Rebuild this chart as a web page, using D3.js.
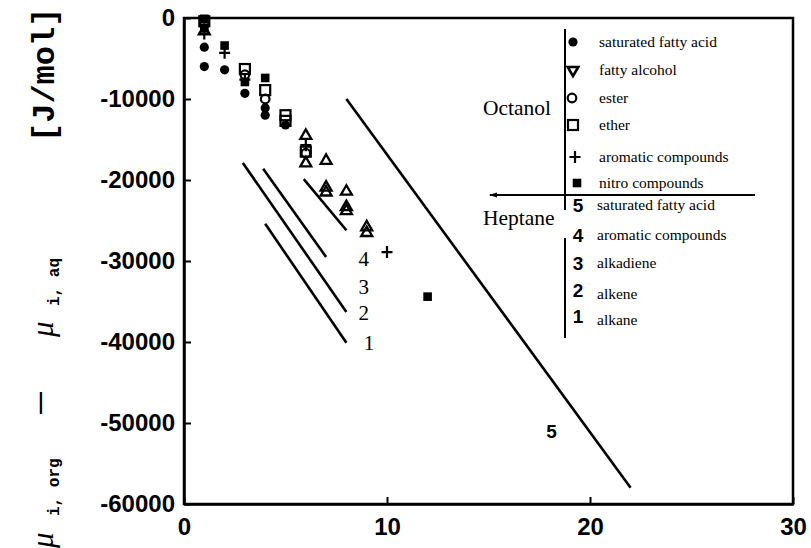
<!DOCTYPE html>
<html>
<head>
<meta charset="utf-8">
<script src="https://cdn.jsdelivr.net/npm/d3@7"></script>
<style>
  body { margin: 0; background: #fff; }
  svg { display: block; }
  .tick-label { font-family: "Liberation Sans", Arial, sans-serif; font-weight: bold; font-size: 24px; fill: #000; }
  .serif { font-family: "Liberation Serif", "Times New Roman", serif; fill: #000; }
  .mono { font-family: "Liberation Mono", "Courier New", monospace; fill: #000; }
  .num { font-family: "Liberation Sans", Arial, sans-serif; font-weight: bold; fill: #000; }
</style>
</head>
<body>
<svg id="chart" width="811" height="548"></svg>
<script>
// Axis ticks
const xTicks = [0, 10, 20, 30];
const yTicks = [0, -10000, -20000, -30000, -40000, -50000, -60000];

// Octanol series: [carbon number, chemical potential difference J/mol]
const fattyAcid    = [[1, -3600], [1, -6000], [2, -6400], [3, -9300], [4, -11100], [4, -12000], [5, -13200]];
const fattyAlcohol = [[1, -1500], [6, -14400], [6, -17800], [7, -17500], [7, -20800], [7, -21400],
                      [8, -21300], [8, -23200], [8, -23700], [9, -25700], [9, -26400]];
const ester        = [[1, -800], [3, -7000], [4, -10000], [6, -16700]];
const ether        = [[1, -400], [3, -6300], [4, -8900], [5, -12000], [5, -12700], [6, -16500]];
const aromatic     = [[1, -1900], [2, -4300], [3, -7600], [6, -15700], [10, -28900]];
const nitro        = [[1, -100], [1, -1200], [2, -3400], [3, -7900], [4, -7400], [12, -34400]];

// Heptane correlation lines: end points and the label point
const line1 = [[4, -25400], [8, -40100]];
const line2 = [[2.9, -17900], [8, -36300]];
const line3 = [[3.9, -18600], [7, -29500]];
const line4 = [[5.9, -19900], [8, -26200]];
const line5 = [[8, -10000], [22, -58000]];
const lineLabels = [
  { text: "4", at: [8.6, -29700] },
  { text: "3", at: [8.6, -33200] },
  { text: "2", at: [8.6, -36400] },
  { text: "1", at: [8.85, -40100] }
];
const line5Label = { text: "5", at: [18.1, -51000] };

// Legend entries
const octanolNames = ["saturated fatty acid", "fatty alcohol", "ester", "ether", "aromatic compounds", "nitro compounds"];
const heptaneNumbers = ["5", "4", "3", "2", "1"];
const heptaneNames = ["saturated fatty acid", "aromatic compounds", "alkadiene", "alkene", "alkane"];

const svg = d3.select("#chart");
const x = d3.scaleLinear().domain([0, 30]).range([184, 793]);
const y = d3.scaleLinear().domain([0, -60000]).range([18, 504]);

// Frame
svg.append("rect")
  .attr("x", x(0)).attr("y", y(0))
  .attr("width", x(30) - x(0)).attr("height", y(-60000) - y(0))
  .attr("fill", "none").attr("stroke", "#000").attr("stroke-width", 2.5);

// Axes with inward ticks
const xAxis = d3.axisBottom(x).tickValues(xTicks).tickSizeInner(-7).tickSizeOuter(0).tickPadding(14)
  .tickFormat(d => String(d));
const yAxis = d3.axisLeft(y).tickValues(yTicks).tickSizeInner(-7).tickSizeOuter(0).tickPadding(9)
  .tickFormat(d => String(d));

const gx = svg.append("g").attr("transform", `translate(0,${y(-60000)})`).call(xAxis);
const gy = svg.append("g").attr("transform", `translate(${x(0)},0)`).call(yAxis);
[gx, gy].forEach(g => {
  g.select(".domain").attr("stroke", "#000").attr("stroke-width", 2.5);
  g.selectAll(".tick line").attr("stroke", "#000").attr("stroke-width", 2);
  g.selectAll(".tick text").attr("class", "tick-label").attr("font-size", null).attr("font-family", null);
});
gx.selectAll(".tick text").attr("dy", "0.71em");

// Heptane lines
const lineGen = d3.line().x(d => x(d[0])).y(d => y(d[1]));
[line1, line2, line3, line4, line5].forEach(l => {
  svg.append("path").attr("d", lineGen(l))
    .attr("fill", "none").attr("stroke", "#000").attr("stroke-width", 2.6);
});
lineLabels.forEach(l => {
  svg.append("text").attr("class", "serif")
    .attr("x", x(l.at[0])).attr("y", y(l.at[1]))
    .attr("dy", "0.35em").attr("font-size", 21).text(l.text);
});
svg.append("text").attr("class", "num")
  .attr("x", x(line5Label.at[0])).attr("y", y(line5Label.at[1]))
  .attr("dy", "0.35em").attr("text-anchor", "middle").attr("font-weight", "normal")
  .attr("font-size", 19).text(line5Label.text);

// Marker drawing helpers
function marker(g, type, cx, cy) {
  if (type === "fattyAcid") {
    g.append("circle").attr("cx", cx).attr("cy", cy).attr("r", 4.6).attr("fill", "#000");
  } else if (type === "fattyAlcohol") {
    g.append("path").attr("transform", `translate(${cx},${cy + 1})`)
      .attr("d", d3.symbol(d3.symbolTriangle, 52)())
      .attr("fill", "none").attr("stroke", "#000").attr("stroke-width", 2.3);
  } else if (type === "fattyAlcoholLegend") {
    g.append("path").attr("transform", `translate(${cx},${cy}) rotate(180)`)
      .attr("d", d3.symbol(d3.symbolTriangle, 48)())
      .attr("fill", "none").attr("stroke", "#000").attr("stroke-width", 2.6);
  } else if (type === "ester") {
    g.append("circle").attr("cx", cx).attr("cy", cy).attr("r", 4.3)
      .attr("fill", "none").attr("stroke", "#000").attr("stroke-width", 2.2);
  } else if (type === "ether") {
    g.append("rect").attr("x", cx - 5).attr("y", cy - 5).attr("width", 10).attr("height", 10)
      .attr("fill", "none").attr("stroke", "#000").attr("stroke-width", 2.2);
  } else if (type === "aromatic") {
    g.append("path").attr("d", `M${cx - 5.5},${cy}H${cx + 5.5}M${cx},${cy - 6}V${cy + 6}`)
      .attr("stroke", "#000").attr("stroke-width", 2.2);
  } else if (type === "nitro") {
    g.append("rect").attr("x", cx - 4.3).attr("y", cy - 4.3).attr("width", 8.6).attr("height", 8.6)
      .attr("fill", "#000");
  }
}

const pts = svg.append("g");
[["ether", ether], ["ester", ester], ["fattyAlcohol", fattyAlcohol], ["aromatic", aromatic],
 ["nitro", nitro], ["fattyAcid", fattyAcid]].forEach(([type, data]) => {
  data.forEach(d => marker(pts, type, x(d[0]), y(d[1])));
});

// Legend
const lg = svg.append("g");
const legX = 565;
lg.append("path").attr("d", `M${legX},29V210M${legX},238V338`)
  .attr("stroke", "#000").attr("stroke-width", 2);
lg.append("path").attr("d", `M490,195H755`).attr("stroke", "#000").attr("stroke-width", 2);
lg.append("path").attr("d", "M489,195l8,-2.5v5z").attr("fill", "#000");

lg.append("text").attr("class", "serif").attr("x", 483).attr("y", 107).attr("dy", "0.35em")
  .attr("font-size", 21.5).text("Octanol");
lg.append("text").attr("class", "serif").attr("x", 483).attr("y", 217).attr("dy", "0.35em")
  .attr("font-size", 21.5).text("Heptane");

const octTypes = ["fattyAcid", "fattyAlcoholLegend", "ester", "ether", "aromatic", "nitro"];
const octRowsY = [42, 70, 98, 125, 157, 183];
const octSymX = [573, 573, 572, 573, 575, 577];
octTypes.forEach((t, i) => {
  marker(lg, t, octSymX[i], octRowsY[i]);
  lg.append("text").attr("class", "serif").attr("x", 599).attr("y", octRowsY[i])
    .attr("dy", "0.33em").attr("font-size", 15.5).text(octanolNames[i]);
});

const hepRowsY = [205, 235, 263, 290, 316];
heptaneNumbers.forEach((n, i) => {
  lg.append("text").attr("class", "num").attr("x", 578).attr("y", hepRowsY[i])
    .attr("dy", "0.36em").attr("text-anchor", "middle").attr("font-size", 19).text(n);
  lg.append("text").attr("class", "serif").attr("x", 597).attr("y", hepRowsY[i] + (i >= 3 ? 4 : 0))
    .attr("dy", "0.33em").attr("font-size", 15.5).text(heptaneNames[i]);
});

// Vertical axis title
function vText(px, pyBottom, str, cls, size, extra) {
  const t = svg.append("text").attr("class", cls)
    .attr("transform", `translate(${px},${pyBottom}) rotate(-90)`)
    .attr("font-size", size).text(str);
  if (extra) extra(t);
  return t;
}
vText(53, 548, "μ", "serif", 31, t => t.attr("font-style", "italic"));
vText(59, 516, "i, org", "mono", 16, t => t.attr("font-weight", "bold"));
vText(47, 414, "—", "num", 22, t => t.attr("fill", "#000").attr("font-weight", "bold"));
vText(53, 337, "μ", "serif", 31, t => t.attr("font-style", "italic"));
vText(59, 306, "i, aq", "mono", 16, t => t.attr("font-weight", "bold"));
vText(54, 142, "[J/mol]", "mono", 32, t => t.attr("font-weight", "bold"));
</script>
</body>
</html>
